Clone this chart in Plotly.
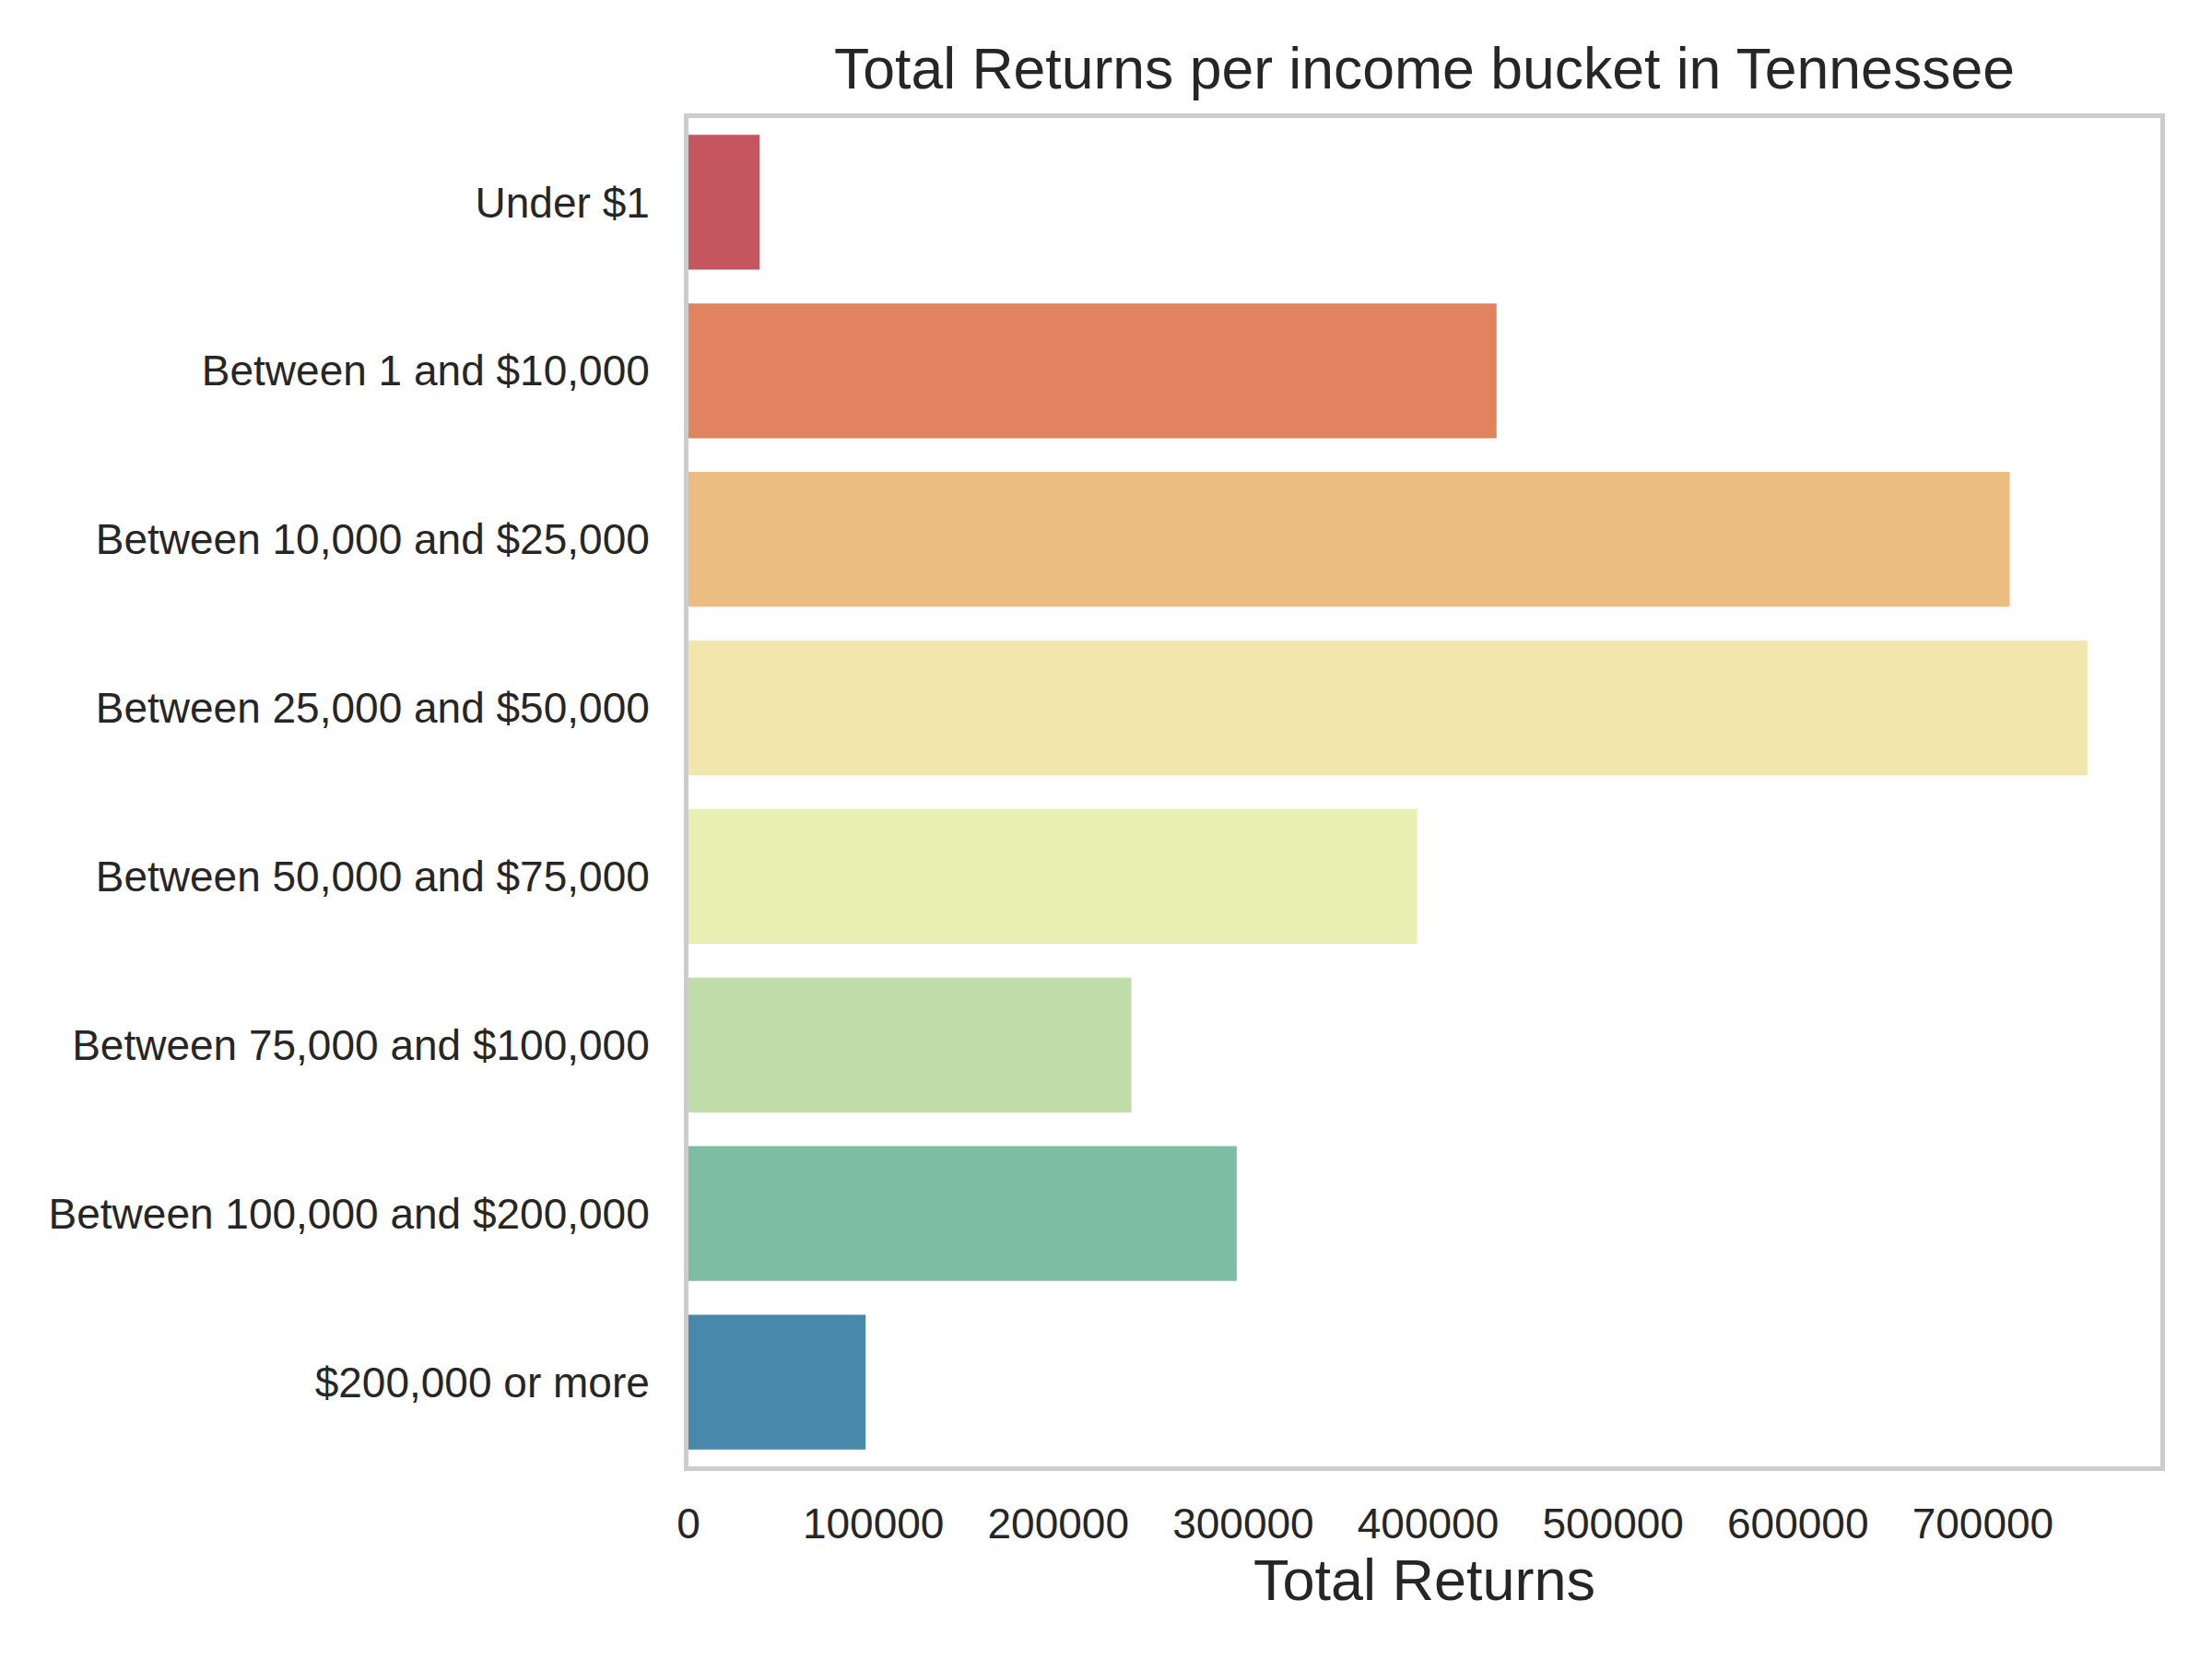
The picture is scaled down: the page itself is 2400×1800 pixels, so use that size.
import colorsys
import plotly.graph_objs as go

# income buckets, top to bottom
income_buckets = [
    "Under $1",
    "Between 1 and $10,000",
    "Between 10,000 and $25,000",
    "Between 25,000 and $50,000",
    "Between 50,000 and $75,000",
    "Between 75,000 and $100,000",
    "Between 100,000 and $200,000",
    "$200,000 or more",
]
total_returns = [38500, 437000, 714500, 756500, 394000, 239500, 296500, 95800]

x_ticks = [0, 100000, 200000, 300000, 400000, 500000, 600000, 700000]

# Spectral anchors (same as matplotlib's cmap)
spectral = [
    (158, 1, 66), (213, 62, 79), (244, 109, 67), (253, 174, 97),
    (254, 224, 139), (255, 255, 191), (230, 245, 152), (171, 221, 164),
    (102, 194, 165), (50, 136, 189), (94, 79, 162),
]


def spectral_color(x, sat=0.75):
    # mimic seaborn: sample cmap then desaturate bars
    x = min(int(x * 256), 255) / 255.0
    p = x * 10
    i = min(int(p), 9)
    f = p - i
    c0, c1 = spectral[i], spectral[i + 1]
    rgb = [(a + (b - a) * f) / 255.0 for a, b in zip(c0, c1)]
    h, l, s = colorsys.rgb_to_hls(*rgb)
    r, g, b = colorsys.hls_to_rgb(h, l, s * sat)
    return "rgb(%d,%d,%d)" % (round(r * 255), round(g * 255), round(b * 255))


n = len(income_buckets)
bar_colors = [spectral_color((k + 1) / (n + 1)) for k in range(n)]

font_family = "Liberation Sans, Arial, sans-serif"
text_color = "#262626"

data = [
    go.Bar(
        x=total_returns,
        y=income_buckets,
        orientation="h",
        width=0.8,
        marker=dict(color=bar_colors, line=dict(width=0)),
        showlegend=False,
    )
]

layout = go.Layout(
    width=2400,
    height=1800,
    autosize=False,
    margin=dict(l=739, r=64, t=120, b=217),
    paper_bgcolor="white",
    plot_bgcolor="white",
    font=dict(family=font_family, color=text_color, size=46),
    title=dict(
        text="Total Returns per income bucket in Tennessee",
        x=0.5,
        xref="paper",
        xanchor="center",
        y=1,
        yref="paper",
        yanchor="bottom",
        pad=dict(b=32),
        font=dict(size=62.5, color=text_color, family=font_family),
    ),
    xaxis=dict(
        range=[0, 796000],
        tickvals=x_ticks,
        tickformat="d",
        showgrid=False,
        zeroline=False,
        showline=True,
        mirror=True,
        linecolor="#cccccc",
        linewidth=5,
        ticks="",
        ticklabelstandoff=18,
        tickfont=dict(size=46),
        title=dict(text="Total Returns", font=dict(size=63), standoff=14),
    ),
    yaxis=dict(
        range=[n - 0.5, -0.5],
        showgrid=False,
        zeroline=False,
        showline=True,
        mirror=True,
        linecolor="#cccccc",
        linewidth=5,
        ticks="",
        ticklabelstandoff=28,
        tickfont=dict(size=46),
    ),
)

fig = go.Figure(data=data, layout=layout)
fig.write_html("out.html")
